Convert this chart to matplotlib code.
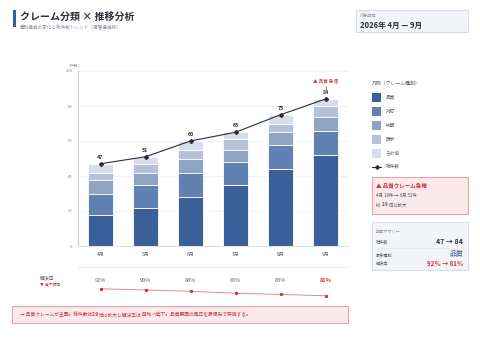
import matplotlib
matplotlib.use("Agg")
from matplotlib import pyplot as plt
from matplotlib import transforms
from matplotlib.patches import Rectangle
from matplotlib.lines import Line2D
import numpy as np

plt.rcParams['font.family'] = ['Noto Sans CJK JP', 'DejaVu Sans']

# data
months = ["4月", "5月", "6月", "7月", "8月", "9月"]
kinds = ["品質", "対応", "納期", "請求", "その他"]
quality = [18, 22, 28, 35, 44, 52]
response = [12, 13, 14, 13, 14, 14]
delivery = [8, 7, 8, 7, 7, 8]
billing = [4, 5, 5, 6, 5, 6]
other = [5, 4, 5, 4, 5, 4]
totals = [47, 51, 60, 65, 75, 84]
rates = [92, 90, 88, 85, 83, 81]
yticks = [0, 20, 40, 60, 80, 100]

colors = ["#3b5f98", "#6281b3", "#8da4c3", "#b4c3d9", "#d5deea"]
red = "#c8353d"
gray = "#8a8f99"
dark = "#2b2f38"

W, H = 480, 360
fig = plt.figure(figsize=(4.8, 3.6), dpi=100)
fig.patch.set_facecolor("white")


def fx(x):
    return x / W


def fy(y):
    return 1 - y / H


def box(x0, y0, x1, y1, fc, ec):
    fig.patches.append(Rectangle((fx(x0), fy(y1)), fx(x1 - x0), (y1 - y0) / H,
                                 transform=fig.transFigure, facecolor=fc,
                                 edgecolor=ec, linewidth=0.8))


def chain(parts, x, y, size):
    # draw text pieces one after another (for mixed bold/normal)
    prev = None
    for s, color, weight in parts:
        if prev is None:
            prev = fig.text(fx(x), fy(y), s, fontsize=size, color=color,
                            weight=weight, va="center", ha="left")
        else:
            prev = fig.add_artist(plt.Annotation(s, xy=(1, 0.5), xycoords=prev,
                                                 va="center", ha="left",
                                                 fontsize=size, color=color,
                                                 weight=weight))
    return prev


# header
fig.patches.append(Rectangle((fx(13), fy(27)), fx(3), 17 / H, transform=fig.transFigure,
                             facecolor=colors[0], edgecolor="none"))
fig.text(fx(20), fy(17), "クレーム分類 × 推移分析", fontsize=7.2, weight="bold",
         color=dark, va="center")
fig.text(fx(20), fy(28), "種別構成の変化と総件数トレンド（積層棒推移）", fontsize=3.3,
         color=gray, va="center")

box(356, 10, 468, 32, "#f4f5f9", "#d9dde7")
fig.text(fx(360), fy(16), "対象期間", fontsize=3, color=gray, va="center")
fig.text(fx(360), fy(25), "2026年 4月 — 9月", fontsize=5.5, weight="bold",
         color=dark, va="center")

# main chart
ax = fig.add_axes([fx(78), fy(246), fx(270), 175 / H])
x = np.arange(len(months))
bottom = np.zeros(len(months))
for vals, c in zip([quality, response, delivery, billing, other], colors):
    ax.bar(x, vals, width=0.57, bottom=bottom, color=c, edgecolor="white",
           linewidth=0.6, zorder=2)
    bottom += np.array(vals)

ax.plot(x, totals, color=dark, linewidth=0.8, marker="D", markersize=2, zorder=4)
for xi, t in zip(x, totals):
    ax.text(xi, t + 2.2, str(t), ha="center", va="bottom", fontsize=3.8,
            weight="bold", color=dark, zorder=5)

ax.plot([x[-1], x[-1]], [totals[-1] + 5.8, totals[-1] + 7.5], color=red, linewidth=0.5)
ax.text(x[-1], totals[-1] + 9, "▲ 品質 急増", ha="center", va="bottom", fontsize=3.3,
        color=red)

ax.set_xlim(-0.5, len(months) - 0.5)
ax.set_ylim(0, 100)
ax.set_yticks(yticks)
ax.set_yticklabels([str(v) for v in yticks], fontsize=3, color=gray)
ax.set_xticks(x)
ax.set_xticklabels(months, fontsize=3.5, color="#555b66")
ax.tick_params(length=0, pad=4)
ax.grid(axis="y", color="#eef0f4", linewidth=0.6, zorder=0)
for s in ["top", "right"]:
    ax.spines[s].set_visible(False)
ax.spines["left"].set_color("#c9d1e0")
ax.spines["bottom"].set_color("#dde1e8")
ax.spines["left"].set_linewidth(0.8)
ax.spines["bottom"].set_linewidth(0.8)
fig.text(fx(66), fy(66), "（件数）", fontsize=2.8, color=gray, va="center")

# resolution rate row
fig.add_artist(Line2D([fx(78), fx(348)], [fy(267), fy(267)], color="#e6e8ee",
                      linewidth=0.6, transform=fig.transFigure))
fig.text(fx(40), fy(278), "解決率", fontsize=3.5, color="#555b66", va="center")
fig.text(fx(40), fy(285), "▼ 低下傾向", fontsize=2.8, color=red, va="center")

rax = fig.add_axes([fx(78), fy(300), fx(270), 17 / H])
rax.plot(x, rates, color="#e08a8f", linewidth=0.7, marker="o", markersize=1.4,
         markerfacecolor=red, markeredgecolor=red)
rax.set_xlim(-0.5, len(months) - 0.5)
rax.set_ylim(74.3, 101)
rax.axis("off")
tr = transforms.blended_transform_factory(ax.transData, fig.transFigure)
for i, r in enumerate(rates):
    last = i == len(rates) - 1
    fig.text(x[i], fy(280), f"{r}%", transform=tr, ha="center", va="center",
             fontsize=4, color=red if last else "#5f646e",
             weight="bold" if last else "normal")

# bottom conclusion
box(12, 306, 348, 323, "#fbeaec", "#e8a2a8")
chain([("→ 品質クレームが主因。総件数は", red, "normal"),
       ("2.9", red, "bold"),
       ("倍に拡大し解決率は", red, "normal"),
       ("81%", red, "bold"),
       ("へ低下。品質要因の是正を最優先で実施する。", red, "normal")],
      20, 314.5, 3.4)

# legend panel
fig.text(fx(372), fy(83), "凡例（クレーム種別）", fontsize=3.5, color="#555b66", va="center")
for i, (k, c) in enumerate(zip(kinds, colors)):
    yy = 97 + i * 14
    fig.patches.append(Rectangle((fx(372), fy(yy + 4.5)), fx(9), 9 / H,
                                 transform=fig.transFigure, facecolor=c, edgecolor="none"))
    fig.text(fx(386), fy(yy), k, fontsize=3.3, color="#555b66", va="center")
ly = 97 + 5 * 14
fig.add_artist(Line2D([fx(372), fx(376.5), fx(381)], [fy(ly)] * 3, color=dark,
                      linewidth=0.8, marker="D", markersize=1.8, markevery=[1],
                      transform=fig.transFigure))
fig.text(fx(386), fy(ly), "総件数", fontsize=3.3, color="#555b66", va="center")

# alert box
box(372, 177, 468, 214, "#fbeaec", "#e8a2a8")
fig.text(fx(376), fy(185), "▲ 品質クレーム急増", fontsize=4, weight="bold", color=red,
         va="center")
fig.text(fx(376), fy(195), "4月 18件 → 9月 52件", fontsize=3.2, color="#555b66", va="center")
chain([("約 ", "#555b66", "normal"), ("2.9", "#555b66", "bold"),
       (" 倍に拡大", "#555b66", "normal")], 376, 205, 3.2)

# summary box
box(372, 222, 468, 270, "#f4f5f9", "#d9dde7")
fig.text(fx(376), fy(231), "期間サマリー", fontsize=3, color=gray, va="center")
fig.text(fx(376), fy(242), "総件数", fontsize=3, color="#555b66", va="center")
fig.text(fx(463), fy(242), f"{totals[0]} → {totals[-1]}", fontsize=5, weight="bold",
         color=dark, ha="right", va="center")
fig.add_artist(Line2D([fx(376), fx(464)], [fy(248), fy(248)], color="#e3e6ec",
                      linewidth=0.5, transform=fig.transFigure))
fig.text(fx(376), fy(255), "最多種別", fontsize=3, color="#555b66", va="center")
fig.text(fx(463), fy(254), kinds[0], fontsize=5, color=colors[0], ha="right", va="center")
fig.text(fx(376), fy(263), "解決率", fontsize=3, color="#555b66", va="center")
fig.text(fx(463), fy(263), f"{rates[0]}% → {rates[-1]}%", fontsize=4.5, weight="bold",
         color=red, ha="right", va="center")

fig.savefig("out.png", dpi=100)
